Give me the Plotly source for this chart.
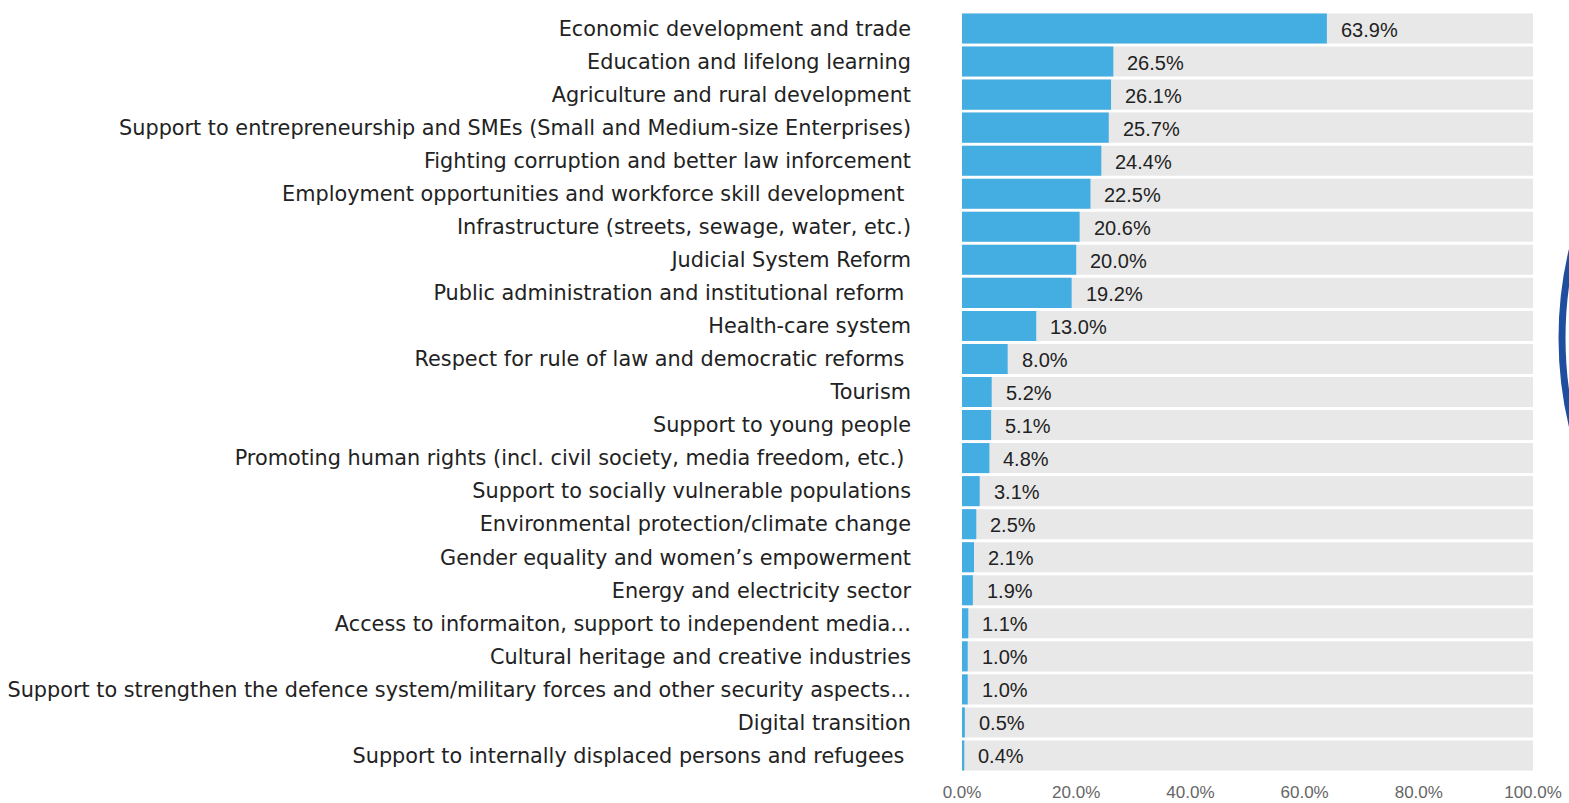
import plotly.graph_objects as go

categories = [
    "Economic development and trade",
    "Education and lifelong learning",
    "Agriculture and rural development",
    "Support to entrepreneurship and SMEs (Small and Medium-size Enterprises)",
    "Fighting corruption and better law inforcement",
    "Employment opportunities and workforce skill development ",
    "Infrastructure (streets, sewage, water, etc.)",
    "Judicial System Reform",
    "Public administration and institutional reform ",
    "Health-care system",
    "Respect for rule of law and democratic reforms ",
    "Tourism",
    "Support to young people",
    "Promoting human rights (incl. civil society, media freedom, etc.) ",
    "Support to socially vulnerable populations",
    "Environmental protection/climate change",
    "Gender equality and women’s empowerment",
    "Energy and electricity sector",
    "Access to informaiton, support to independent media…",
    "Cultural heritage and creative industries",
    "Support to strengthen the defence system/military forces and other security aspects…",
    "Digital transition",
    "Support to internally displaced persons and refugees ",
]
values = [63.9, 26.5, 26.1, 25.7, 24.4, 22.5, 20.6, 20.0, 19.2, 13.0, 8.0, 5.2, 5.1,
          4.8, 3.1, 2.5, 2.1, 1.9, 1.1, 1.0, 1.0, 0.5, 0.4]
full = [100.0] * len(categories)
tick_vals = [0, 20, 40, 60, 80, 100]
tick_text = ["0.0%", "20.0%", "40.0%", "60.0%", "80.0%", "100.0%"]

W, H = 1569, 803
ML, MR, MT, MB = 962, 36, 12, 31

fig = go.Figure()
fig.add_trace(go.Bar(y=categories, x=full, orientation="h",
                     marker=dict(color="#e8e8e8", line=dict(width=0)),
                     hoverinfo="skip", showlegend=False))
fig.add_trace(go.Bar(y=categories, x=values, orientation="h",
                     marker=dict(color="#44aee2", line=dict(width=0)),
                     showlegend=False))

for c, v in zip(categories, values):
    fig.add_annotation(x=v, y=c, text=f"{v:.1f}%", showarrow=False,
                       xanchor="left", yanchor="middle", xshift=12, yshift=-1,
                       font=dict(family="Liberation Sans", size=20, color="#222222"))

# decorative arc at right edge
pw = W - ML - MR
ph = H - MT - MB
def px2x(p):
    return (p - ML) / pw
def py2y(p):
    return (H - MB - p) / ph
r = 380
cx0 = 1562
cy = 338
fig.add_shape(type="circle", xref="paper", yref="paper",
              x0=px2x(cx0), x1=px2x(cx0 + 2 * r),
              y0=py2y(cy + r), y1=py2y(cy - r),
              line=dict(color="#1f4e9e", width=7), fillcolor="rgba(0,0,0,0)",
              layer="above")

fig.update_layout(
    width=W, height=H,
    margin=dict(l=ML, r=MR, t=MT, b=MB),
    barmode="overlay", bargap=0.09,
    plot_bgcolor="white", paper_bgcolor="white",
    xaxis=dict(range=[0, 100], tickvals=tick_vals, ticktext=tick_text,
               showgrid=False, zeroline=False, showline=False, automargin=False,
               ticks="outside", ticklen=5, tickcolor="rgba(0,0,0,0)",
               tickfont=dict(family="Liberation Sans", size=17, color="#666666")),
    yaxis=dict(categoryorder="array", categoryarray=categories,
               autorange="reversed", showgrid=False, zeroline=False, automargin=False,
               ticks="", ticklabelstandoff=50,
               tickfont=dict(family="DejaVu Sans", size=20.8, color="#222222")),
)

fig.write_html("out.html", config={"displayModeBar": False},
               post_script="document.body.style.margin='0';document.body.style.overflow='hidden';")
